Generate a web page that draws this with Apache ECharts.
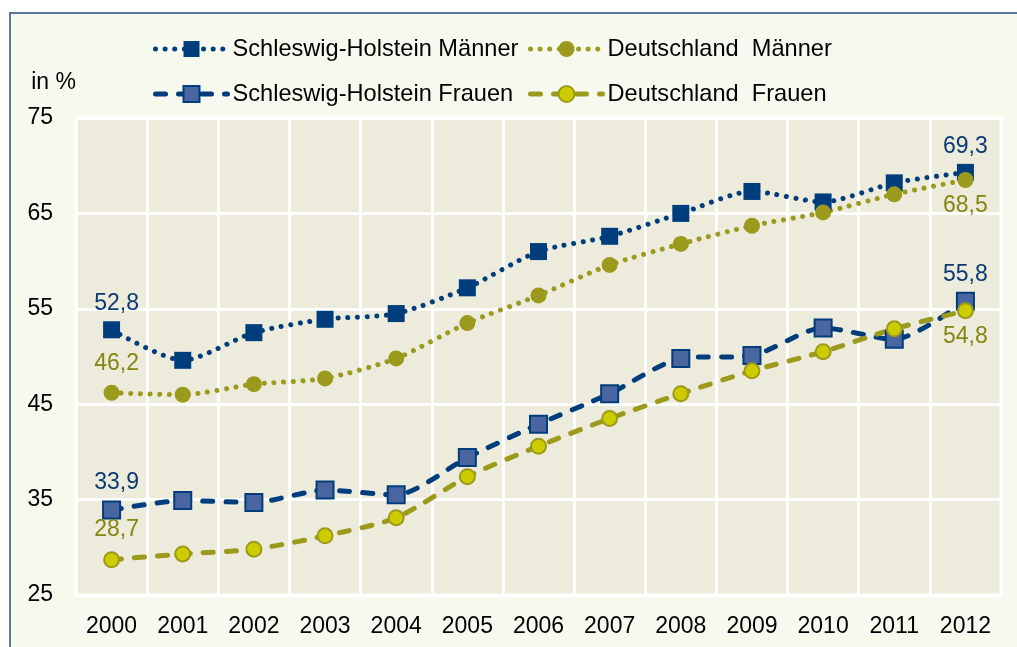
<!DOCTYPE html>
<html>
<head>
<meta charset="utf-8">
<script src="https://cdn.jsdelivr.net/npm/echarts@6/dist/echarts.min.js"></script>
<style>
  html, body { margin: 0; padding: 0; background: #ffffff; }
  #frame { position: absolute; left: 9px; top: 12px; width: 1100px; height: 700px;
           border-left: 2px solid #5a74a8; border-top: 2px solid #5a74a8; background: #f8f9ee; }
  #chart { position: absolute; left: 0; top: 0; width: 1017px; height: 647px; }
</style>
</head>
<body>
<div id="frame"></div>
<div id="chart"></div>
<script>
const years = ['2000', '2001', '2002', '2003', '2004', '2005', '2006', '2007', '2008', '2009', '2010', '2011', '2012']
const shMaenner = [52.8, 49.6, 52.5, 53.9, 54.5, 57.2, 61.0, 62.6, 65.0, 67.3, 66.2, 68.2, 69.3]
const deMaenner = [46.2, 46.0, 47.1, 47.7, 49.8, 53.5, 56.4, 59.6, 61.8, 63.7, 65.1, 67.0, 68.5]
const shFrauen = [33.9, 34.9, 34.7, 36.0, 35.5, 39.4, 42.9, 46.1, 49.8, 50.1, 53.0, 51.8, 55.8]
const deFrauen = [28.7, 29.3, 29.8, 31.2, 33.1, 37.4, 40.6, 43.5, 46.1, 48.5, 50.5, 52.9, 54.8]
const yTicks = [25, 35, 45, 55, 65, 75]

const FONT = '"Liberation Sans", Arial, sans-serif'
const BLUE = '#003d7c'
const OLIVE = '#9c9a1c'

// only first and last point get a value label
function withLabels(values, color, firstPos, lastPos) {
  return values.map((v, i) => {
    if (i !== 0 && i !== values.length - 1) return v
    return {
      value: v,
      label: {
        show: true,
        position: i === 0 ? firstPos : lastPos,
        distance: i === 0 && firstPos === 'top' && color !== BLUE ? 10 : 6,
        offset: i === 0 ? [5, 0] : [0, 0],
        formatter: p => p.value.toFixed(1).replace('.', ','),
        color: color === BLUE ? '#0b3a73' : '#85850f',
        fontSize: 23,
        fontFamily: FONT
      }
    }
  })
}

const dotted = { type: [0.01, 9.6], cap: 'round', width: 5 }
const dashed = { type: [10, 13], cap: 'round', width: 5 }

const legendBase = {
  orient: 'horizontal',
  padding: 0,
  itemWidth: 72,
  itemHeight: 20,
  itemGap: 0,
  lineStyle: { width: 5, cap: 'round' },
  textStyle: { fontSize: 23.6, fontFamily: FONT, color: '#000' }
}

const chart = echarts.init(document.getElementById('chart'))
chart.setOption({
  animation: false,
  backgroundColor: 'transparent',
  legend: [
    Object.assign({}, legendBase, { left: 153, top: 37, data: ['Schleswig-Holstein Männer'] }),
    Object.assign({}, legendBase, { left: 528, top: 37, data: ['Deutschland  Männer'] }),
    Object.assign({}, legendBase, { left: 153, top: 82, data: ['Schleswig-Holstein Frauen'] }),
    Object.assign({}, legendBase, { left: 528, top: 82, data: ['Deutschland  Frauen'] })
  ],
  grid: {
    left: 76, right: 16, top: 118, bottom: 52,
    show: true, backgroundColor: '#edebdc', borderColor: '#ffffff', borderWidth: 3
  },
  xAxis: {
    type: 'category',
    data: years,
    boundaryGap: true,
    axisLine: { show: false },
    axisTick: { show: false },
    splitLine: { show: true, lineStyle: { color: '#ffffff', width: 3 } },
    axisLabel: { color: '#000', fontSize: 23, fontFamily: FONT, margin: 20 }
  },
  yAxis: {
    type: 'value',
    min: yTicks[0],
    max: yTicks[yTicks.length - 1],
    interval: 10,
    name: 'in %',
    nameLocation: 'end',
    nameGap: 24,
    nameTextStyle: { color: '#000', fontSize: 23, fontFamily: FONT, align: 'right' },
    axisLine: { show: false },
    axisTick: { show: false },
    splitLine: { show: true, lineStyle: { color: '#ffffff', width: 3 } },
    axisLabel: { color: '#000', fontSize: 23, fontFamily: FONT, margin: 23 }
  },
  series: [
    {
      name: 'Schleswig-Holstein Männer', type: 'line', smooth: 0.25,
      data: withLabels(shMaenner, BLUE, 'top', 'top'),
      symbol: 'rect', symbolSize: 17,
      itemStyle: { color: BLUE },
      lineStyle: Object.assign({ color: BLUE }, dotted)
    },
    {
      name: 'Schleswig-Holstein Frauen', type: 'line', smooth: 0.25,
      data: withLabels(shFrauen, BLUE, 'top', 'top'),
      symbol: 'rect', symbolSize: 17,
      itemStyle: { color: '#4a66a0', borderColor: BLUE, borderWidth: 2 },
      lineStyle: Object.assign({ color: BLUE }, dashed)
    },
    {
      name: 'Deutschland  Männer', type: 'line', smooth: 0.25,
      data: withLabels(deMaenner, OLIVE, 'top', 'bottom'),
      symbol: 'circle', symbolSize: 16,
      itemStyle: { color: OLIVE },
      lineStyle: Object.assign({ color: OLIVE }, dotted)
    },
    {
      name: 'Deutschland  Frauen', type: 'line', smooth: 0.25,
      data: withLabels(deFrauen, OLIVE, 'top', 'bottom'),
      symbol: 'circle', symbolSize: 15,
      itemStyle: { color: '#cccc00', borderColor: OLIVE, borderWidth: 2 },
      lineStyle: Object.assign({ color: OLIVE }, dashed)
    }
  ]
})
</script>
</body>
</html>
